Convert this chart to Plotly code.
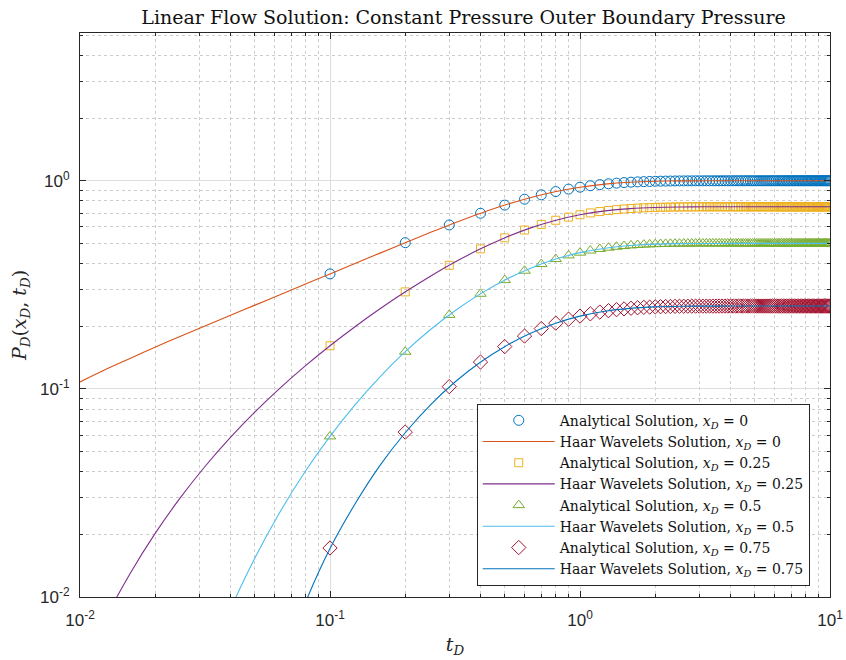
import plotly.graph_objects as go

# ---------------- data ----------------
t_markers = [0.1, 0.2, 0.3, 0.4, 0.5, 0.6, 0.7, 0.8, 0.9, 1.0,
             1.1, 1.2, 1.3, 1.4, 1.5, 1.6, 1.7, 1.8, 1.9, 2.0,
             2.1, 2.2, 2.3, 2.4, 2.5, 2.6, 2.7, 2.8, 2.9, 3.0,
             3.1, 3.2, 3.3, 3.4, 3.5, 3.6, 3.7, 3.8, 3.9, 4.0,
             4.1, 4.2, 4.3, 4.4, 4.5, 4.6, 4.7, 4.8, 4.9, 5.0,
             5.1, 5.2, 5.3, 5.4, 5.5, 5.6, 5.7, 5.8, 5.9, 6.0,
             6.1, 6.2, 6.3, 6.4, 6.5, 6.6, 6.7, 6.8, 6.9, 7.0,
             7.1, 7.2, 7.3, 7.4, 7.5, 7.6, 7.7, 7.8, 7.9, 8.0,
             8.1, 8.2, 8.3, 8.4, 8.5, 8.6, 8.7, 8.8, 8.9, 9.0,
             9.1, 9.2, 9.3, 9.4, 9.5, 9.6, 9.7, 9.8, 9.9, 10.0]

analytic_x0 = [0.3568, 0.5041, 0.6132, 0.6979, 0.7639, 0.8156, 0.8559, 0.8874, 0.9120, 0.9313,
               0.9463, 0.9580, 0.9672, 0.9744, 0.9800, 0.9844, 0.9878, 0.9905, 0.9925, 0.9942,
               0.9954, 0.9964, 0.9972, 0.9978, 0.9983, 0.9987, 0.9990, 0.9992, 0.9994, 0.9995,
               0.9996, 0.9997, 0.9997, 0.9998, 0.9998, 0.9999, 0.9999, 0.9999, 0.9999, 1.0,
               1.0, 1.0, 1.0, 1.0, 1.0, 1.0, 1.0, 1.0, 1.0, 1.0,
               1.0, 1.0, 1.0, 1.0, 1.0, 1.0, 1.0, 1.0, 1.0, 1.0,
               1.0, 1.0, 1.0, 1.0, 1.0, 1.0, 1.0, 1.0, 1.0, 1.0,
               1.0, 1.0, 1.0, 1.0, 1.0, 1.0, 1.0, 1.0, 1.0, 1.0,
               1.0, 1.0, 1.0, 1.0, 1.0, 1.0, 1.0, 1.0, 1.0, 1.0,
               1.0, 1.0, 1.0, 1.0, 1.0, 1.0, 1.0, 1.0, 1.0, 1.0]

analytic_x025 = [0.1611, 0.2924, 0.3927, 0.4709, 0.5319, 0.5796, 0.6169, 0.6460, 0.6687, 0.6865,
                 0.7004, 0.7112, 0.7197, 0.7263, 0.7315, 0.7356, 0.7387, 0.7412, 0.7431, 0.7446,
                 0.7458, 0.7467, 0.7474, 0.7480, 0.7484, 0.7488, 0.7490, 0.7493, 0.7494, 0.7495,
                 0.7496, 0.7497, 0.7498, 0.7498, 0.7499, 0.7499, 0.7499, 0.7499, 0.75, 0.75,
                 0.75, 0.75, 0.75, 0.75, 0.75, 0.75, 0.75, 0.75, 0.75, 0.75,
                 0.75, 0.75, 0.75, 0.75, 0.75, 0.75, 0.75, 0.75, 0.75, 0.75,
                 0.75, 0.75, 0.75, 0.75, 0.75, 0.75, 0.75, 0.75, 0.75, 0.75,
                 0.75, 0.75, 0.75, 0.75, 0.75, 0.75, 0.75, 0.75, 0.75, 0.75,
                 0.75, 0.75, 0.75, 0.75, 0.75, 0.75, 0.75, 0.75, 0.75, 0.75,
                 0.75, 0.75, 0.75, 0.75, 0.75, 0.75, 0.75, 0.75, 0.75, 0.75]

analytic_x05 = [0.0591, 0.1508, 0.2267, 0.2864, 0.3331, 0.3696, 0.3981, 0.4204, 0.4378, 0.4514,
                0.4620, 0.4703, 0.4768, 0.4819, 0.4858, 0.4889, 0.4914, 0.4933, 0.4947, 0.4959,
                0.4968, 0.4975, 0.4980, 0.4985, 0.4988, 0.4991, 0.4993, 0.4994, 0.4996, 0.4997,
                0.4997, 0.4998, 0.4998, 0.4999, 0.4999, 0.4999, 0.4999, 0.5, 0.5, 0.5,
                0.5, 0.5, 0.5, 0.5, 0.5, 0.5, 0.5, 0.5, 0.5, 0.5,
                0.5, 0.5, 0.5, 0.5, 0.5, 0.5, 0.5, 0.5, 0.5, 0.5,
                0.5, 0.5, 0.5, 0.5, 0.5, 0.5, 0.5, 0.5, 0.5, 0.5,
                0.5, 0.5, 0.5, 0.5, 0.5, 0.5, 0.5, 0.5, 0.5, 0.5,
                0.5, 0.5, 0.5, 0.5, 0.5, 0.5, 0.5, 0.5, 0.5, 0.5,
                0.5, 0.5, 0.5, 0.5, 0.5, 0.5, 0.5, 0.5, 0.5, 0.5]

analytic_x075 = [0.0172, 0.0620, 0.1025, 0.1346, 0.1597, 0.1794, 0.1949, 0.2069, 0.2163, 0.2237,
                 0.2294, 0.2339, 0.2375, 0.2402, 0.2423, 0.2440, 0.2453, 0.2464, 0.2471, 0.2478,
                 0.2483, 0.2486, 0.2489, 0.2492, 0.2494, 0.2495, 0.2496, 0.2497, 0.2498, 0.2498,
                 0.2498, 0.2499, 0.2499, 0.2499, 0.2499, 0.25, 0.25, 0.25, 0.25, 0.25,
                 0.25, 0.25, 0.25, 0.25, 0.25, 0.25, 0.25, 0.25, 0.25, 0.25,
                 0.25, 0.25, 0.25, 0.25, 0.25, 0.25, 0.25, 0.25, 0.25, 0.25,
                 0.25, 0.25, 0.25, 0.25, 0.25, 0.25, 0.25, 0.25, 0.25, 0.25,
                 0.25, 0.25, 0.25, 0.25, 0.25, 0.25, 0.25, 0.25, 0.25, 0.25,
                 0.25, 0.25, 0.25, 0.25, 0.25, 0.25, 0.25, 0.25, 0.25, 0.25,
                 0.25, 0.25, 0.25, 0.25, 0.25, 0.25, 0.25, 0.25, 0.25, 0.25]

t_lines = [0.01, 0.01259, 0.01585, 0.01995, 0.02512, 0.03162, 0.03981, 0.05012, 0.0631, 0.07943,
           0.1, 0.1259, 0.1585, 0.1995, 0.2512, 0.3162, 0.3981, 0.5012, 0.631, 0.7943,
           1.0, 1.259, 1.585, 1.995, 2.512, 3.162, 3.981, 5.012, 6.31, 7.943, 10.0]

haar_x0 = [0.1080, 0.1235, 0.1400, 0.1585, 0.1785, 0.2005, 0.2251, 0.2526, 0.2834, 0.3180,
           0.3568, 0.4003, 0.4491, 0.5035, 0.5635, 0.6284, 0.6965, 0.7647, 0.8291, 0.8858,
           0.9313, 0.9637, 0.9838, 0.9941, 0.9984, 0.9997, 1.0, 1.0, 1.0, 1.0, 1.0]

haar_x025 = [0.00438, 0.00781, 0.01294, 0.02015, 0.02984, 0.04238, 0.05814, 0.07751, 0.10087, 0.12860,
             0.16114, 0.19897, 0.24248, 0.29187, 0.34693, 0.40677, 0.46957, 0.53256, 0.59214, 0.64451,
             0.68650, 0.71648, 0.73500, 0.74455, 0.74848, 0.74969, 0.74996, 0.75, 0.75, 0.75, 0.75]

haar_x05 = [0.0000144, 0.00007, 0.000264, 0.000796, 0.00200, 0.00441, 0.00864, 0.01545, 0.02562, 0.03996,
            0.05912, 0.08377, 0.11424, 0.15044, 0.19185, 0.23739, 0.28539, 0.33358, 0.37918, 0.41926,
            0.45140, 0.47434, 0.48852, 0.49583, 0.49883, 0.49977, 0.49997, 0.5, 0.5, 0.5, 0.5]

haar_x075 = [0.00000001, 0.00000015, 0.0000015, 0.00001, 0.00005, 0.000205, 0.000687, 0.00189, 0.00441, 0.0093,
             0.0171, 0.0280, 0.0429, 0.06139, 0.08341, 0.10791, 0.13385, 0.15993, 0.18461, 0.20630,
             0.22369, 0.23611, 0.24379, 0.24774, 0.24937, 0.24987, 0.24998, 0.25, 0.25, 0.25, 0.25]

x_labels = ["0", "0.25", "0.5", "0.75"]

# ---------------- styling ----------------
marker_colors = ["#0072BD", "#EDB120", "#77AC30", "#A2142F"]
line_colors = ["#D95319", "#7E2F8E", "#4DBEEE", "#0072BD"]
symbols = ["circle-open", "square-open", "triangle-up-open", "diamond-open"]
sizes = [10, 8, 10, 11]

analytic = [analytic_x0, analytic_x025, analytic_x05, analytic_x075]
haar = [haar_x0, haar_x025, haar_x05, haar_x075]

SERIF = "DejaVu Serif, Liberation Serif, serif"
SANS = "Liberation Sans, Arial, sans-serif"
INK = "#262626"

fig = go.Figure()
for i in range(4):
    xd = "<i>x</i><sub><i>D</i></sub>"
    fig.add_trace(go.Scatter(
        x=t_markers, y=analytic[i], mode="markers",
        name=f"Analytical Solution, {xd} = {x_labels[i]}",
        marker=dict(symbol=symbols[i], size=sizes[i], color=marker_colors[i],
                    line=dict(width=1, color=marker_colors[i])),
    ))
    fig.add_trace(go.Scatter(
        x=t_lines, y=haar[i], mode="lines",
        name=f"Haar Wavelets Solution, {xd} = {x_labels[i]}",
        line=dict(color=line_colors[i], width=1.1, shape="spline", smoothing=0.8),
    ))

decades_x = [0.01, 0.1, 1, 10]
minor_x = [0.02, 0.03, 0.04, 0.05, 0.06, 0.07, 0.08, 0.09,
           0.2, 0.3, 0.4, 0.5, 0.6, 0.7, 0.8, 0.9,
           2, 3, 4, 5, 6, 7, 8, 9]
decades_y = [0.01, 0.1, 1]
minor_y = [0.02, 0.03, 0.04, 0.05, 0.06, 0.07, 0.08, 0.09,
           0.2, 0.3, 0.4, 0.5, 0.6, 0.7, 0.8, 0.9,
           2, 3, 4, 5]

axis_common = dict(
    type="log", showline=True, linecolor=INK, linewidth=1, mirror="allticks",
    ticks="inside", ticklen=6, tickcolor=INK, tickwidth=1,
    showgrid=True, gridcolor="#dedede", gridwidth=1, zeroline=False,
    tickfont=dict(family=SANS, size=17, color=INK), automargin=False,
)

fig.update_xaxes(
    **axis_common, range=[-2, 1],
    tickvals=decades_x, ticktext=["10<sup>-2</sup>", "10<sup>-1</sup>", "10<sup>0</sup>", "10<sup>1</sup>"],
    minor=dict(tickvals=minor_x, ticks="inside", ticklen=3, tickcolor=INK,
               showgrid=True, gridcolor="#cccccc", griddash="dot", gridwidth=1),
    ticklabelstandoff=8,
    title=dict(text="<i>t</i><sub><i>D</i></sub>", font=dict(family=SERIF, size=19, color=INK), standoff=8),
)
fig.update_yaxes(
    **axis_common, range=[-2, 0.71],
    tickvals=decades_y, ticktext=["10<sup>-2</sup>", "10<sup>-1</sup>", "10<sup>0</sup>"],
    minor=dict(tickvals=minor_y, ticks="inside", ticklen=3, tickcolor=INK,
               showgrid=True, gridcolor="#cccccc", griddash="dot", gridwidth=1),
    ticklabelstandoff=6,
    title=dict(text="<i>P</i><sub><i>D</i></sub>(<i>x</i><sub><i>D</i></sub>, <i>t</i><sub><i>D</i></sub>)",
               font=dict(family=SERIF, size=19, color=INK), standoff=8),
)

fig.update_layout(
    width=846, height=660,
    margin=dict(l=80, r=16, t=33, b=63),
    paper_bgcolor="white", plot_bgcolor="white",
    title=dict(text="Linear Flow Solution: Constant Pressure Outer Boundary Pressure",
               font=dict(family=SERIF, size=19, color="#111111"),
               x=0.548, xanchor="center", y=1 - 17 / 660, yanchor="middle", yref="container"),
    legend=dict(x=0.973, xanchor="right", y=0.02, yanchor="bottom",
                bgcolor="white", bordercolor=INK, borderwidth=1,
                font=dict(family=SERIF, size=14, color="#111111"),
                tracegroupgap=0, itemwidth=72),
    showlegend=True,
)

fig.write_html("out.html")
